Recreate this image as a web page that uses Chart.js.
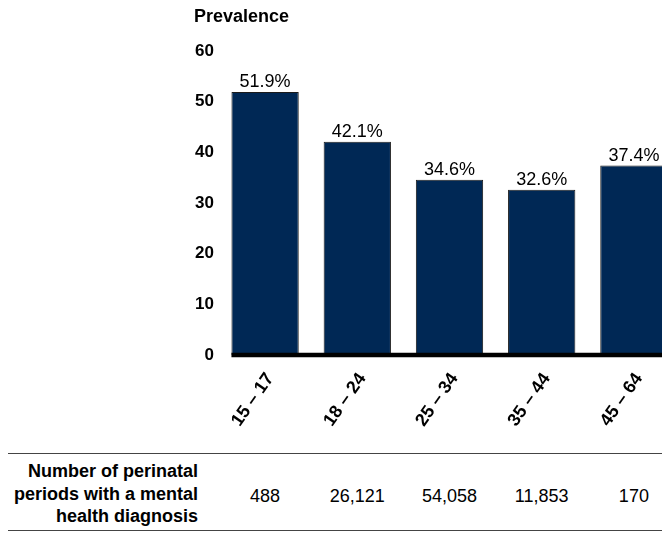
<!DOCTYPE html>
<html>
<head>
<meta charset="utf-8">
<script src="https://cdn.jsdelivr.net/npm/chart.js@4.4.0/dist/chart.umd.min.js"></script>
<style>
  body { margin: 0; overflow: hidden; background: #fff; font-family: "Liberation Sans", Arial, sans-serif; }
  #wrap { position: relative; width: 662px; height: 533px; overflow: hidden; }
  #chart { position: absolute; left: 0; top: 0; }
  #ytitle { position: absolute; left: 194px; top: 7px; font-weight: bold; font-size: 18px; line-height: 18px; }
  #table { position: absolute; left: 8px; top: 453px; width: 654px; height: 76px;
           border-top: 1.5px solid #444; border-bottom: 1.5px solid #444; }
  #rowhead { position: absolute; right: 464px; top: 6px; text-align: right; font-weight: bold;
             font-size: 18px; line-height: 22.5px; white-space: nowrap; }
  .num { position: absolute; top: 31px; font-size: 18px; line-height: 22px; transform: translateX(-50%); white-space: nowrap; }
</style>
</head>
<body>
<div id="wrap">
  <canvas id="chart" width="680" height="450"></canvas>
  <div id="ytitle">Prevalence</div>
  <div id="table">
    <div id="rowhead">Number of perinatal<br>periods with a mental<br>health diagnosis</div>
  </div>
</div>
<script>
// Chart data
const ageGroups    = ["15 \u2013 17", "18 \u2013 24", "25 \u2013 34", "35 \u2013 44", "45 \u2013 64"];
const prevalence   = [51.9, 42.1, 34.6, 32.6, 37.4];
const yTicks       = [0, 10, 20, 30, 40, 50, 60];
const periodCounts = ["488", "26,121", "54,058", "11,853", "170"];

const FONT = "'Liberation Sans', Arial, sans-serif";

// Value labels above bars + thick baseline starting at the first bar
const barExtras = {
  id: "barExtras",
  afterDatasetsDraw(chart) {
    const ctx = chart.ctx;
    const meta = chart.getDatasetMeta(0);
    ctx.save();
    ctx.font = "18px " + FONT;
    ctx.fillStyle = "#000";
    ctx.textAlign = "center";
    ctx.textBaseline = "alphabetic";
    meta.data.forEach((bar, i) => {
      ctx.fillText(prevalence[i].toFixed(1) + "%", bar.x, bar.y - 5);
    });
    const first = meta.data[0];
    const yZero = chart.scales.y.getPixelForValue(0);
    ctx.strokeStyle = "#000";
    ctx.lineWidth = 4.5;
    ctx.beginPath();
    ctx.moveTo(first.x - first.width / 2, yZero);
    ctx.lineTo(chart.chartArea.right, yZero);
    ctx.stroke();
    ctx.restore();
  }
};

const chart = new Chart(document.getElementById("chart"), {
  type: "bar",
  data: {
    labels: ageGroups,
    datasets: [{
      data: prevalence,
      backgroundColor: "#002855",
      borderColor: "#1b1b1b",
      borderWidth: 1,
      barPercentage: 0.73,
      categoryPercentage: 1.0
    }]
  },
  options: {
    responsive: false,
    animation: false,
    layout: { padding: { top: 51, right: 0, bottom: 0, left: 0 } },
    plugins: { legend: { display: false }, tooltip: { enabled: false } },
    scales: {
      x: {
        grid: { display: false, drawTicks: false },
        border: { display: false },
        ticks: {
          color: "#000",
          font: { family: FONT, size: 18, weight: "bold" },
          minRotation: 55, maxRotation: 55,
          labelOffset: 5,
          padding: 14
        },
        afterFit(scale) { scale.height = 95; }
      },
      y: {
        min: 0, max: 60,
        afterBuildTicks(scale) { scale.ticks = yTicks.map(v => ({ value: v })); },
        grid: { display: false, drawTicks: false },
        border: { display: false },
        ticks: {
          color: "#000",
          font: { family: FONT, size: 17, weight: "bold" },
          padding: 5
        },
        afterFit(scale) { scale.width = 219; }
      }
    }
  },
  plugins: [barExtras]
});

// Table row under the chart, one number per age group column
const table = document.getElementById("table");
periodCounts.forEach((txt, i) => {
  const d = document.createElement("div");
  d.className = "num";
  d.style.left = (chart.scales.x.getPixelForValue(i) - 8) + "px";
  d.textContent = txt;
  table.appendChild(d);
});
</script>
</body>
</html>
